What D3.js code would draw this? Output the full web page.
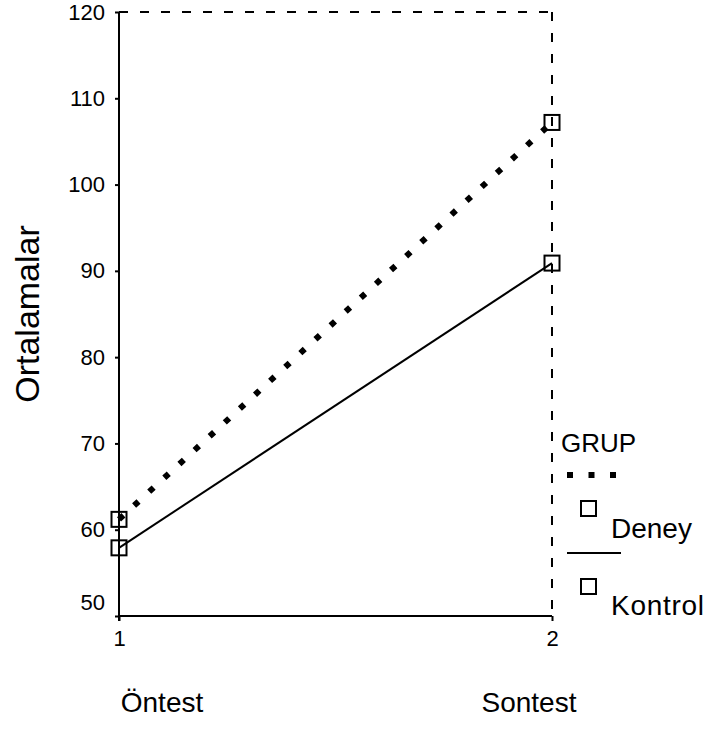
<!DOCTYPE html>
<html>
<head>
<meta charset="utf-8">
<script src="https://cdn.jsdelivr.net/npm/d3@7"></script>
<style>
  html, body { margin: 0; padding: 0; background: #fff; }
  svg { display: block; }
  text { font-family: "Liberation Sans", Arial, sans-serif; fill: #000; }
</style>
</head>
<body>
<script>
// Group means for the pre-test / post-test design
const timepoints = [1, 2];
const timeNames = ["Öntest", "Sontest"];
const groups = ["Deney", "Kontrol"];
const deneyMeans = [61.2, 107.2];
const kontrolMeans = [57.9, 90.9];
const yTicks = [50, 60, 70, 80, 90, 100, 110, 120];
const legendTitle = "GRUP";
const yTitle = "Ortalamalar";

const W = 708, H = 729;
const FONT = "Liberation Sans, Arial, sans-serif";
const svg = d3.select("body").append("svg").attr("width", W).attr("height", H);

const x = d3.scaleLinear().domain([1, 2]).range([119, 552]);
const y = d3.scaleLinear().domain([50, 120]).range([616, 12]);

// Frame: dashed top and right edges
svg.append("line")
  .attr("x1", x(1)).attr("x2", x(2)).attr("y1", y(120)).attr("y2", y(120))
  .attr("stroke", "#000").attr("stroke-width", 2).attr("stroke-dasharray", "9,12");
svg.append("line")
  .attr("x1", x(2)).attr("x2", x(2)).attr("y1", y(120)).attr("y2", y(50))
  .attr("stroke", "#000").attr("stroke-width", 2).attr("stroke-dasharray", "9,12");

// Y axis
const yAxis = d3.axisLeft(y).tickValues(yTicks).tickSize(4).tickPadding(10).tickFormat(d3.format("d"));
const gy = svg.append("g").attr("transform", `translate(${x(1)},0)`).call(yAxis);
gy.select(".domain").attr("stroke-width", 2).attr("d", `M0,${y(120)}V${y(50) + 5}`);
gy.selectAll(".tick line").attr("stroke-width", 2);
gy.selectAll(".tick text").attr("font-size", 22).attr("font-family", FONT);
// the lowest label sits just above the baseline axis
gy.selectAll(".tick").filter(d => d === 50).select("text").attr("dy", "-0.3em");

// X axis
const xAxis = d3.axisBottom(x).tickValues(timepoints).tickSize(5).tickPadding(9).tickFormat(d3.format("d"));
const gx = svg.append("g").attr("transform", `translate(0,${y(50)})`).call(xAxis);
gx.select(".domain").attr("stroke-width", 2).attr("d", `M${x(1)},0H${x(2)}`);
gx.selectAll(".tick line").attr("stroke-width", 2);
gx.selectAll(".tick text").attr("font-size", 22).attr("font-family", FONT);

// Category names under the axis
svg.selectAll("text.timeName").data(timeNames).enter().append("text")
  .attr("class", "timeName")
  .attr("x", (d, i) => x(timepoints[i]) + (i === 0 ? 43 : -23))
  .attr("y", 712)
  .attr("text-anchor", "middle")
  .attr("font-size", 28)
  .text(d => d);

// Y title
svg.append("text")
  .attr("transform", `translate(39,${(y(50) + y(120)) / 2}) rotate(-90)`)
  .attr("text-anchor", "middle")
  .attr("font-size", 34)
  .text(yTitle);

// Lines
const line = d3.line().x((d, i) => x(timepoints[i])).y(d => y(d));
svg.append("path").datum(deneyMeans).attr("d", line)
  .attr("fill", "none").attr("stroke", "#000").attr("stroke-width", 6)
  .attr("stroke-dasharray", "6,14.5");
svg.append("path").datum(kontrolMeans).attr("d", line)
  .attr("fill", "none").attr("stroke", "#000").attr("stroke-width", 2);

// Square markers
const ms = 15;
[deneyMeans, kontrolMeans].forEach(vals => {
  svg.selectAll(null).data(vals).enter().append("rect")
    .attr("x", (d, i) => x(timepoints[i]) - ms / 2)
    .attr("y", d => y(d) - ms / 2)
    .attr("width", ms).attr("height", ms)
    .attr("fill", "none").attr("stroke", "#000").attr("stroke-width", 2);
});

// Legend
const lg = svg.append("g");
lg.append("text").attr("x", 561).attr("y", 452).attr("font-size", 26).text(legendTitle);
lg.append("line").attr("x1", 567).attr("x2", 620).attr("y1", 475).attr("y2", 475)
  .attr("stroke", "#000").attr("stroke-width", 6).attr("stroke-dasharray", "6,15.5");
lg.append("rect").attr("x", 581).attr("y", 501).attr("width", ms).attr("height", ms)
  .attr("fill", "none").attr("stroke", "#000").attr("stroke-width", 2);
lg.append("text").attr("x", 611).attr("y", 538).attr("font-size", 28).text(groups[0]);
lg.append("line").attr("x1", 567).attr("x2", 621).attr("y1", 553).attr("y2", 553)
  .attr("stroke", "#000").attr("stroke-width", 2);
lg.append("rect").attr("x", 581).attr("y", 579).attr("width", ms).attr("height", ms)
  .attr("fill", "none").attr("stroke", "#000").attr("stroke-width", 2);
lg.append("text").attr("x", 611).attr("y", 615).attr("font-size", 28)
  .attr("textLength", 93).attr("lengthAdjust", "spacing").text(groups[1]);
</script>
</body>
</html>
